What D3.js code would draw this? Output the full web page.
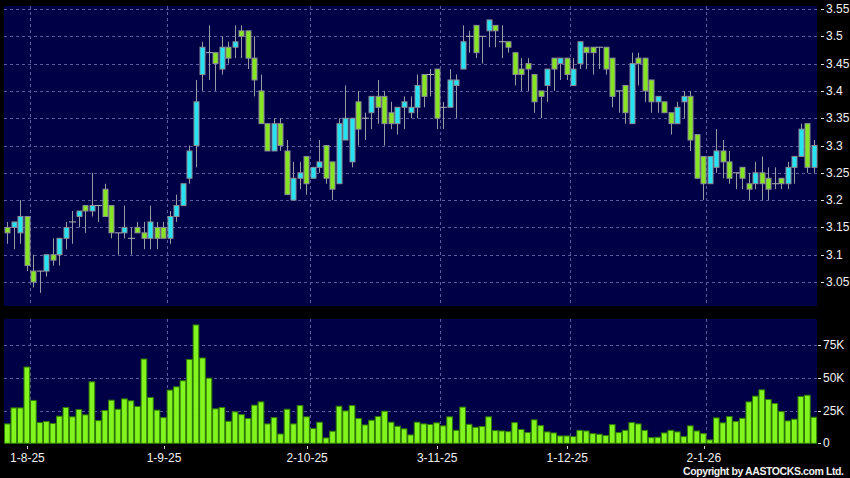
<!DOCTYPE html>
<html>
<head>
<meta charset="utf-8">
<script src="https://cdn.jsdelivr.net/npm/d3@7"></script>
<style>
  body { margin: 0; background: #000; }
  svg { display: block; }
  text { font-family: "Liberation Sans", Arial, sans-serif; fill: #f0f0f0; }
</style>
</head>
<body>
<svg class="svg-main" width="850" height="478"></svg>
<script>
// daily candles, 125 sessions
const opens = [
  3.15,3.15,3.14,3.17,3.07,3.07,3.07,3.10,3.10,3.13,3.16,3.17,3.19,3.18,3.19,3.22,3.19,3.14,3.14,3.13,
  3.15,3.14,3.13,3.15,3.15,3.13,3.17,3.19,3.24,3.30,3.43,3.47,3.47,3.44,3.48,3.48,3.51,3.51,3.46,3.40,
  3.34,3.29,3.34,3.29,3.20,3.24,3.28,3.24,3.26,3.30,3.27,3.23,3.31,3.27,3.38,3.35,3.36,3.39,3.39,3.36,
  3.34,3.37,3.36,3.37,3.43,3.43,3.44,3.37,3.37,3.41,3.44,3.50,3.52,3.50,3.51,3.52,3.49,3.49,3.47,3.44,
  3.45,3.43,3.40,3.41,3.46,3.45,3.46,3.41,3.45,3.48,3.48,3.48,3.48,3.46,3.40,3.41,3.34,3.46,3.46,3.42,
  3.38,3.38,3.36,3.34,3.38,3.39,3.32,3.28,3.23,3.26,3.29,3.27,3.25,3.26,3.23,3.23,3.25,3.24,3.23,3.24,
  3.23,3.26,3.28,3.34,3.26
];
const highs = [
  3.16,3.16,3.20,3.17,3.10,3.07,3.10,3.13,3.13,3.16,3.18,3.18,3.19,3.25,3.19,3.23,3.19,3.14,3.19,3.15,
  3.16,3.16,3.19,3.16,3.16,3.18,3.21,3.23,3.30,3.42,3.49,3.52,3.47,3.50,3.49,3.52,3.52,3.51,3.50,3.43,
  3.34,3.35,3.35,3.31,3.27,3.27,3.28,3.26,3.31,3.30,3.27,3.35,3.41,3.35,3.40,3.36,3.39,3.42,3.40,3.38,
  3.37,3.39,3.39,3.43,3.43,3.44,3.44,3.38,3.44,3.43,3.52,3.51,3.52,3.50,3.53,3.52,3.52,3.49,3.47,3.46,
  3.46,3.43,3.40,3.44,3.46,3.46,3.46,3.46,3.49,3.48,3.48,3.48,3.48,3.46,3.40,3.41,3.47,3.47,3.46,3.42,
  3.39,3.38,3.36,3.38,3.40,3.40,3.32,3.28,3.28,3.33,3.31,3.29,3.25,3.26,3.25,3.27,3.28,3.26,3.26,3.24,
  3.27,3.28,3.34,3.34,3.31
];
const lows = [
  3.12,3.11,3.12,3.07,3.04,3.03,3.06,3.08,3.08,3.11,3.12,3.15,3.14,3.17,3.16,3.17,3.13,3.10,3.13,3.10,
  3.14,3.11,3.11,3.11,3.13,3.12,3.16,3.19,3.23,3.26,3.40,3.42,3.40,3.43,3.45,3.46,3.46,3.44,3.39,3.34,
  3.29,3.29,3.29,3.21,3.20,3.22,3.21,3.24,3.25,3.23,3.20,3.23,3.31,3.26,3.30,3.31,3.33,3.34,3.30,3.33,
  3.32,3.33,3.35,3.35,3.37,3.39,3.33,3.33,3.37,3.35,3.44,3.47,3.46,3.45,3.48,3.48,3.46,3.47,3.41,3.40,
  3.40,3.36,3.35,3.38,3.40,3.42,3.42,3.41,3.44,3.44,3.43,3.44,3.43,3.37,3.36,3.34,3.34,3.41,3.38,3.36,
  3.36,3.36,3.32,3.34,3.35,3.29,3.24,3.20,3.23,3.25,3.24,3.23,3.22,3.22,3.20,3.22,3.20,3.20,3.22,3.22,
  3.22,3.23,3.28,3.25,3.25
];
const closes = [
  3.14,3.16,3.17,3.08,3.05,3.07,3.10,3.09,3.13,3.15,3.16,3.18,3.18,3.19,3.19,3.17,3.14,3.14,3.15,3.13,
  3.14,3.13,3.16,3.13,3.13,3.17,3.19,3.23,3.29,3.38,3.48,3.47,3.45,3.48,3.46,3.49,3.50,3.46,3.42,3.34,
  3.29,3.34,3.30,3.21,3.24,3.25,3.23,3.26,3.27,3.24,3.22,3.34,3.35,3.35,3.33,3.35,3.39,3.37,3.34,3.34,
  3.37,3.38,3.37,3.41,3.39,3.43,3.35,3.37,3.42,3.42,3.49,3.50,3.47,3.50,3.53,3.51,3.49,3.48,3.43,3.43,
  3.44,3.38,3.39,3.44,3.44,3.46,3.43,3.44,3.49,3.47,3.47,3.48,3.44,3.39,3.40,3.36,3.45,3.45,3.40,3.38,
  3.39,3.36,3.34,3.37,3.39,3.31,3.24,3.23,3.28,3.29,3.27,3.24,3.25,3.24,3.22,3.25,3.23,3.22,3.23,3.23,
  3.26,3.28,3.33,3.26,3.30
];
// volume in thousands of shares
const volumes = [
  14.8,27.0,27.0,58.2,32.7,15.8,16.6,15.1,20.7,27.3,20.2,25.8,21.7,46.9,17.3,25.0,32.9,26.0,33.9,32.4,
  28.1,64.3,35.0,25.3,19.6,40.6,43.1,47.7,64.0,90.3,65.1,49.7,26.3,27.3,16.8,24.0,21.9,18.9,29.1,31.6,
  14.8,19.6,7.1,26.0,14.8,28.8,20.2,11.2,16.1,4.1,9.2,28.3,24.7,28.8,18.9,14.0,17.6,20.4,24.5,16.1,
  13.0,11.0,6.4,16.1,14.8,14.3,15.6,13.3,20.2,9.9,27.6,14.5,12.2,12.8,20.2,9.7,9.4,8.9,15.8,10.5,
  8.2,17.9,13.5,8.7,7.9,5.6,5.6,5.1,9.9,9.4,7.4,6.9,5.9,14.3,8.2,9.9,15.8,14.8,9.9,4.3,
  4.6,7.9,9.9,8.7,5.1,13.3,9.4,7.4,2.6,19.4,15.6,20.4,16.6,19.1,31.6,36.0,40.8,33.4,30.4,24.2,
  17.1,18.4,35.7,36.7,19.9
];
// first session of each labelled month (candle index) and its label
const dateTickIdx = [3, 24, 46, 66, 86, 107];
const dateLabels = ["1-8-25", "1-9-25", "2-10-25", "3-11-25", "1-12-25", "2-1-26"];
const priceTicks = [3.05, 3.1, 3.15, 3.2, 3.25, 3.3, 3.35, 3.4, 3.45, 3.5, 3.55];
const volumeTicks = [0, 25, 50, 75];

const svg = d3.select(".svg-main");

const left = 4, right = 817;
const priceTop = 6, priceBottom = 306;
const volTop = 319, volBottom = 443.5;

const candles = opens.map((o, i) => ({
  i: i, o: o, h: highs[i], l: lows[i], c: closes[i], v: volumes[i]
}));

const x = d3.scaleBand()
  .domain(d3.range(candles.length))
  .range([left, right])
  .padding(0);
const step = x.step();
const cx = (i) => x(i) + step / 2;

const yPrice = d3.scaleLinear().domain([3.05, 3.55]).range([282, 9]);
const yVol = d3.scaleLinear().domain([0, 75]).range([443.3, 345]);

const gridColor = "#5b5b9e";

// panels
svg.append("rect")
  .attr("x", left).attr("y", priceTop)
  .attr("width", right - left).attr("height", priceBottom - priceTop)
  .attr("fill", "#000046");
svg.append("rect")
  .attr("x", left).attr("y", volTop)
  .attr("width", right - left).attr("height", volBottom - volTop)
  .attr("fill", "#000046");

// grid lines
const gridX = dateTickIdx.map(i => x(i) + step);
const grid = svg.append("g")
  .attr("class", "grid")
  .attr("stroke", gridColor)
  .attr("stroke-width", 1)
  .attr("stroke-dasharray", "3,3");

grid.selectAll("line.hp")
  .data(priceTicks)
  .enter().append("line")
    .attr("class", "hp")
    .attr("x1", left).attr("x2", right)
    .attr("y1", d => Math.round(yPrice(d)) + 0.5)
    .attr("y2", d => Math.round(yPrice(d)) + 0.5);

grid.selectAll("line.hv")
  .data(volumeTicks.slice(1))
  .enter().append("line")
    .attr("class", "hv")
    .attr("x1", left).attr("x2", right)
    .attr("y1", d => Math.round(yVol(d)) + 0.5)
    .attr("y2", d => Math.round(yVol(d)) + 0.5);

grid.selectAll("line.vp")
  .data(gridX)
  .enter().append("line")
    .attr("class", "vp")
    .attr("x1", d => Math.round(d) + 0.5).attr("x2", d => Math.round(d) + 0.5)
    .attr("y1", priceTop).attr("y2", priceBottom);

grid.selectAll("line.vv")
  .data(gridX)
  .enter().append("line")
    .attr("class", "vv")
    .attr("x1", d => Math.round(d) + 0.5).attr("x2", d => Math.round(d) + 0.5)
    .attr("y1", volTop).attr("y2", volBottom);

// candles
const candle = svg.append("g")
  .attr("class", "candles")
  .selectAll("g")
  .data(candles)
  .enter().append("g");

candle.append("line")
  .attr("x1", d => Math.round(cx(d.i)) + 0.5)
  .attr("x2", d => Math.round(cx(d.i)) + 0.5)
  .attr("y1", d => yPrice(d.h))
  .attr("y2", d => yPrice(d.l))
  .attr("stroke", "#9a9aa6")
  .attr("stroke-width", 1);

candle.filter(d => d.c !== d.o)
  .append("rect")
    .attr("x", d => Math.round(cx(d.i)) - 2)
    .attr("y", d => yPrice(Math.max(d.o, d.c)))
    .attr("width", 5)
    .attr("height", d => Math.abs(yPrice(d.o) - yPrice(d.c)))
    .attr("fill", d => d.c > d.o ? "#25e3f3" : "#86e523")
    .attr("stroke", "#8c8c96")
    .attr("stroke-width", 1);

candle.filter(d => d.c === d.o)
  .append("line")
    .attr("x1", d => Math.round(cx(d.i)) - 3)
    .attr("x2", d => Math.round(cx(d.i)) + 4)
    .attr("y1", d => yPrice(d.c))
    .attr("y2", d => yPrice(d.c))
    .attr("stroke", "#b0b0b8")
    .attr("stroke-width", 1);

// volume bars
svg.append("g")
  .attr("class", "volume")
  .selectAll("rect")
  .data(candles)
  .enter().append("rect")
    .attr("x", d => x(d.i) + 0.5)
    .attr("y", d => yVol(d.v))
    .attr("width", step - 0.8)
    .attr("height", d => yVol(0) - yVol(d.v))
    .attr("fill", "#82f51e")
    .attr("stroke", "#2f7a06")
    .attr("stroke-width", 1);

// right axes
const priceAxis = svg.append("g").attr("class", "price-axis");
priceAxis.selectAll("line")
  .data(priceTicks)
  .enter().append("line")
    .attr("x1", 821).attr("x2", 824)
    .attr("y1", d => Math.round(yPrice(d)) + 0.5)
    .attr("y2", d => Math.round(yPrice(d)) + 0.5)
    .attr("stroke", "#e0e0e0");
priceAxis.selectAll("text")
  .data(priceTicks)
  .enter().append("text")
    .attr("x", 826)
    .attr("y", d => yPrice(d) + 4)
    .attr("font-size", 12)
    .text(d => d3.format(".2~f")(d));

const volAxis = svg.append("g").attr("class", "vol-axis");
volAxis.selectAll("line")
  .data(volumeTicks)
  .enter().append("line")
    .attr("x1", 818).attr("x2", 821)
    .attr("y1", d => Math.round(yVol(d)) + 0.5)
    .attr("y2", d => Math.round(yVol(d)) + 0.5)
    .attr("stroke", "#e0e0e0");
volAxis.selectAll("text")
  .data(volumeTicks)
  .enter().append("text")
    .attr("x", 823)
    .attr("y", d => yVol(d) + 4)
    .attr("font-size", 12)
    .text(d => d === 0 ? "0" : d + "K");

// date axis
const dateAxis = svg.append("g").attr("class", "date-axis");
dateAxis.selectAll("line")
  .data(dateTickIdx)
  .enter().append("line")
    .attr("x1", d => Math.round(x(d) + step * 0.6) + 0.5)
    .attr("x2", d => Math.round(x(d) + step * 0.6) + 0.5)
    .attr("y1", 446).attr("y2", 449)
    .attr("stroke", "#d0d0d0");
dateAxis.selectAll("text")
  .data(dateTickIdx)
  .enter().append("text")
    .attr("x", d => x(d) + step * 0.6)
    .attr("y", 462)
    .attr("font-size", 12)
    .attr("text-anchor", "middle")
    .text((d, k) => dateLabels[k]);

svg.append("text")
  .attr("x", 683)
  .attr("y", 475)
  .attr("font-size", 10.5)
  .attr("font-weight", "bold")
  .attr("textLength", 161)
  .attr("lengthAdjust", "spacing")
  .text("Copyright by AASTOCKS.com Ltd.");
</script>
</body>
</html>
